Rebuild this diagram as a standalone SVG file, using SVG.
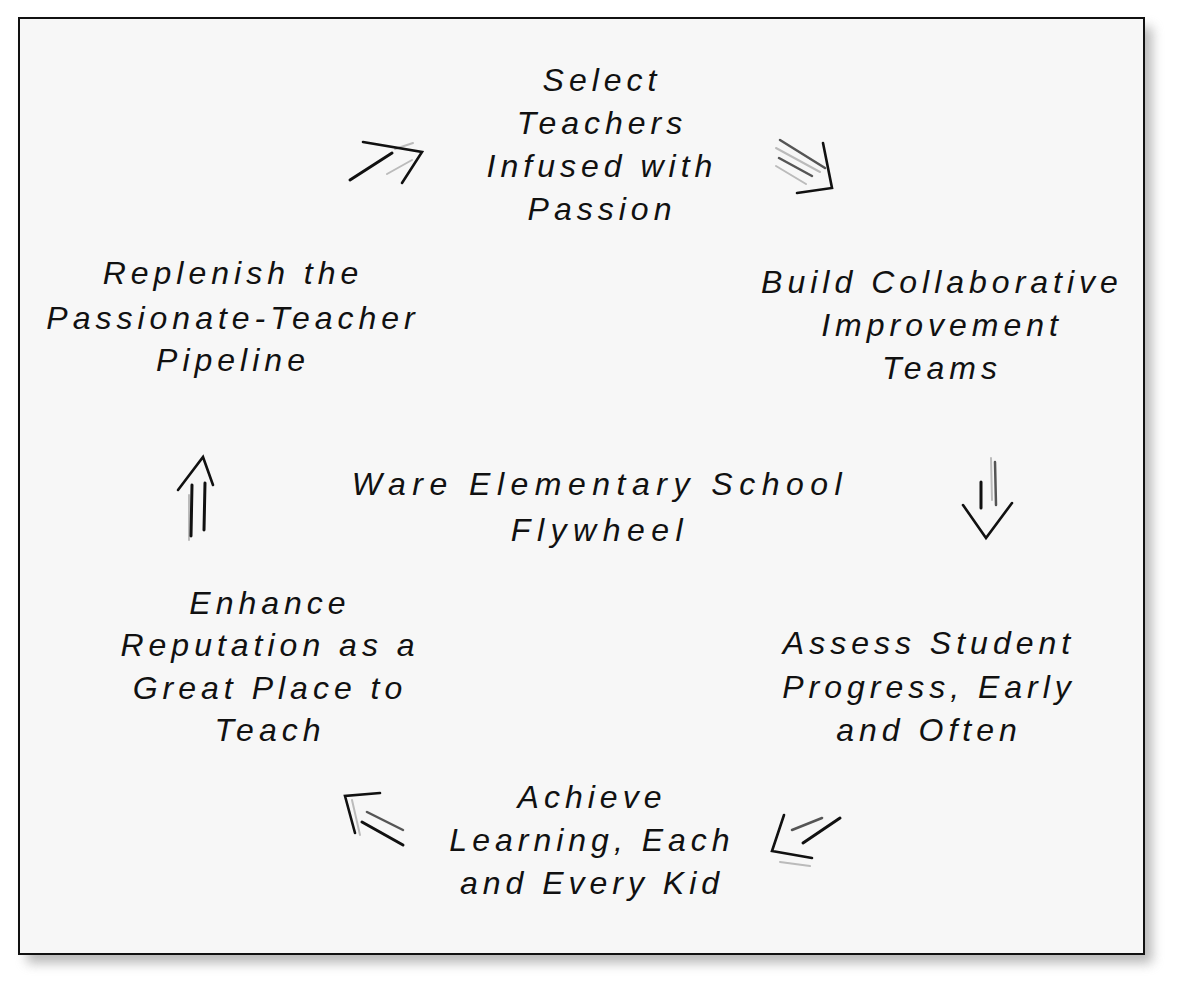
<svg xmlns="http://www.w3.org/2000/svg" width="1180" height="990" viewBox="0 0 1180 990">
<defs>
<filter id="sh" x="-5%" y="-5%" width="115%" height="115%">
<feGaussianBlur stdDeviation="6"/>
</filter>
<style>
.t{font-family:"Liberation Sans","DejaVu Sans",sans-serif;font-style:italic;font-size:32px;fill:#111;text-anchor:middle;letter-spacing:5px}
.c{letter-spacing:6.5px}
.hd{fill:none;stroke:#111;stroke-width:2.6;stroke-linecap:round;stroke-linejoin:miter}
.s1{fill:none;stroke:#111;stroke-width:3;stroke-linecap:round}
.s2{fill:none;stroke:#555;stroke-width:2.5;stroke-linecap:round}
.s3{fill:none;stroke:#bbb;stroke-width:2;stroke-linecap:round}
</style>
</defs>
<rect width="1180" height="990" fill="#ffffff"/>
<rect x="27" y="27" width="1125" height="936" fill="#888" opacity="0.6" filter="url(#sh)"/>
<rect x="19" y="18" width="1125" height="936" fill="#f7f7f7" stroke="#111" stroke-width="2"/>

<g id="connectors">
<g id="a1">
<path class="s3" d="M395 149 L413 143"/>
<path class="s3" d="M387 174 L412 160"/>
<path class="s1" d="M350 180 L392 153"/>
<path class="hd" d="M363 142 L422 152 L402 183"/>
</g>
<g id="a2">
<path class="s3" d="M776 148 L820 172"/>
<path class="s2" d="M780 140 L825 168"/>
<path class="s2" d="M779 158 L812 176"/>
<path class="s3" d="M776 166 L806 184"/>
<path class="hd" d="M823 143 L832 188 L797 193"/>
</g>
<g id="a3">
<path class="s1" d="M981 482 L981 508"/>
<path class="s3" d="M991 458 L992 500"/>
<path class="s2" d="M995 462 L996 505"/>
<path class="hd" d="M963 505 L986 538 L1012 503"/>
</g>
<g id="a4">
<path class="s2" d="M792 830 L822 818"/>
<path class="s1" d="M803 843 L840 818"/>
<path class="s3" d="M780 862 L810 866"/>
<path class="hd" d="M784 815 L772 851 L812 858"/>
</g>
<g id="a5">
<path class="s3" d="M352 800 L360 835"/>
<path class="s2" d="M367 812 L403 830"/>
<path class="s1" d="M362 822 L403 845"/>
<path class="hd" d="M380 793 L345 796 L355 833"/>
</g>
<g id="a6">
<path class="s3" d="M189 495 L189 540"/>
<path class="s1" d="M192 485 L191 536"/>
<path class="s1" d="M205 483 L204 530"/>
<path class="hd" d="M178 490 L203 457 L213 485"/>
</g>
</g>

<g id="n1"><text class="t" x="602" y="91">Select</text><text class="t" x="602" y="134">Teachers</text><text class="t" x="602" y="177">Infused with</text><text class="t" x="602" y="220">Passion</text></g>
<g id="n2"><text class="t" x="942" y="293">Build Collaborative</text><text class="t" x="942" y="336">Improvement</text><text class="t" x="942" y="379">Teams</text></g>
<g id="n3"><text class="t" x="929" y="654">Assess Student</text><text class="t" x="929" y="698">Progress, Early</text><text class="t" x="929" y="741">and Often</text></g>
<g id="n4"><text class="t" x="592" y="808">Achieve</text><text class="t" x="592" y="851">Learning, Each</text><text class="t" x="592" y="894">and Every Kid</text></g>
<g id="n5"><text class="t" x="270" y="614">Enhance</text><text class="t" x="270" y="656">Reputation as a</text><text class="t" x="270" y="699">Great Place to</text><text class="t" x="270" y="741">Teach</text></g>
<g id="n6"><text class="t" x="233" y="284">Replenish the</text><text class="t" x="233" y="329">Passionate-Teacher</text><text class="t" x="233" y="371">Pipeline</text></g>
<g id="center"><text class="t c" x="600" y="495">Ware Elementary School</text><text class="t c" x="600" y="541">Flywheel</text></g>
</svg>
